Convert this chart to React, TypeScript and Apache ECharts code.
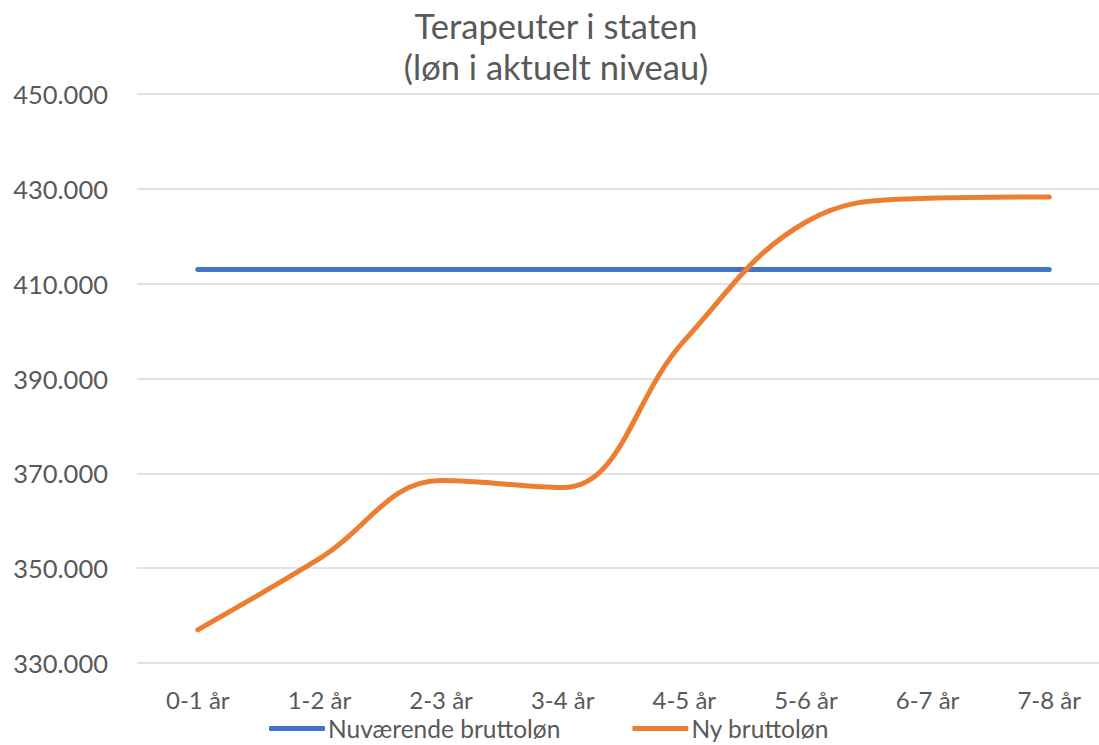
import React, { useEffect, useRef } from "react";
import * as echarts from "echarts";

const categories = ["0-1 år", "1-2 år", "2-3 år", "3-4 år", "4-5 år", "5-6 år", "6-7 år", "7-8 år"];
const currentSalary = [413000, 413000, 413000, 413000, 413000, 413000, 413000, 413000];
const newSalary = [337000, 352000, 368500, 367000, 398000, 423000, 428000, 428300];
const seriesNames = ["Nuværende bruttoløn", "Ny bruttoløn"];
const titleLines = ["Terapeuter i staten", "(løn i aktuelt niveau)"];

const FONT = "Lato, 'Open Sans', sans-serif";
const TEXT = "#595959";

function fmt(v: number): string {
  return String(Math.round(v)).replace(/\B(?=(\d{3})+(?!\d))/g, ".");
}

export default function App() {
  const ref = useRef<HTMLDivElement>(null);
  useEffect(() => {
    if (!ref.current) return;
    const chart = echarts.init(ref.current, null, { renderer: "svg" });
    chart.setOption({
      animation: false,
      backgroundColor: "#ffffff",
      textStyle: { fontFamily: FONT },
      title: {
        text: titleLines.join("\n"),
        left: 551,
        textAlign: "center",
        top: 0,
        textStyle: {
          fontFamily: FONT,
          fontSize: 34.5,
          fontWeight: "normal",
          color: TEXT,
          lineHeight: 41,
        },
      },
      legend: {
        data: seriesNames,
        top: 716,
        left: 269,
        icon: "roundRect",
        itemWidth: 56,
        itemHeight: 5,
        itemGap: 72,
        padding: 0,
        textStyle: { fontFamily: FONT, fontSize: 24.5, color: TEXT, lineHeight: 24, padding: [0, 0, 0, -2] },
      },
      grid: { left: 137, right: 0, top: 94, bottom: 82, containLabel: false },
      xAxis: {
        type: "category",
        data: categories,
        boundaryGap: true,
        axisLine: { show: false },
        axisTick: { show: false },
        axisLabel: { fontFamily: FONT, fontSize: 24, lineHeight: 24, color: TEXT, margin: 24 },
      },
      yAxis: {
        type: "value",
        min: 330000,
        max: 450000,
        interval: 20000,
        axisLine: { show: false },
        axisTick: { show: false },
        splitLine: { lineStyle: { color: "#D9D9D9", width: 1.5 } },
        axisLabel: {
          fontFamily: FONT,
          fontSize: 25.5,
          color: TEXT,
          margin: 29,
          formatter: (v: number) => fmt(v),
        },
      },
      series: [
        {
          name: seriesNames[0],
          type: "line",
          data: currentSalary,
          showSymbol: false,
          symbol: "none",
          itemStyle: { color: "#4472C4" },
          lineStyle: { color: "#4472C4", width: 5, cap: "round" },
        },
        {
          name: seriesNames[1],
          type: "line",
          data: newSalary,
          smooth: 0.4,
          showSymbol: false,
          symbol: "none",
          itemStyle: { color: "#ED7D31" },
          lineStyle: { color: "#ED7D31", width: 5, cap: "round" },
        },
      ],
    });
    return () => chart.dispose();
  }, []);
  return (
    <div
      ref={ref}
      style={{ position: "fixed", left: 0, top: 0, width: 1110, height: 745 }}
    />
  );
}
